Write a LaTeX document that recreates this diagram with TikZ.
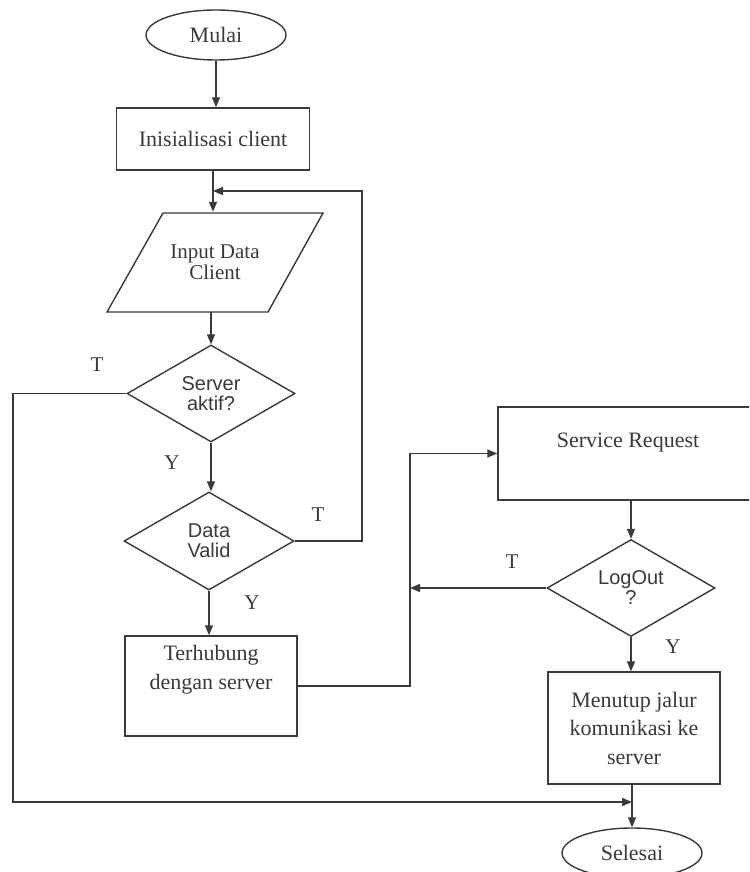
\documentclass[tikz,border=0pt]{standalone}
\usepackage{fontspec}
\setmainfont{Liberation Serif}
\newfontfamily\sansf{Liberation Sans}
\usetikzlibrary{shapes.geometric,arrows.meta}
\definecolor{lc}{HTML}{3A3A3A}
\begin{document}
\begin{tikzpicture}[x=1pt,y=-1pt,color=lc,line width=1.4pt,
  term/.style={ellipse,draw,minimum width=140,minimum height=50,inner sep=0,font=\fontsize{22}{26}\selectfont},
  procbox/.style={rectangle,draw,inner sep=0,align=center,font=\fontsize{22}{29}\selectfont},
  txt/.style={align=center,inner sep=0,font=\fontsize{22}{29}\selectfont},
  decis/.style={diamond,draw,aspect=1.7,inner sep=0,align=center,minimum width=168,minimum height=97,font=\sansf\fontsize{20}{20}\selectfont},
  arr/.style={-{Triangle[length=10pt,width=8pt]}},
  lbl/.style={inner sep=0,font=\fontsize{21}{21}\selectfont}]
\fill[white] (0,0) rectangle (749,872);
\useasboundingbox (0,0) rectangle (749,872);
\clip (0,0) rectangle (749,872);

% main column
\node[term] (mulai) at (216,35) {Mulai};
\node[procbox,minimum width=193,minimum height=62] (init) at (213,139) {Inisialisasi client};
\draw (107,312) -- (163,213) -- (323,213) -- (268,312) -- cycle;
\node[txt,font=\fontsize{21}{21}\selectfont,minimum height=99] (input) at (215,262) {Input Data\\Client};
\node[decis] (srv) at (211,393.5) {Server\\aktif?};
\node[decis,minimum width=170,minimum height=98] (dv) at (209,541) {Data\\Valid};
\node[procbox,minimum width=172,minimum height=100] (ter) at (211,686) {};
\node[txt] (terT) at (211,670) {Terhubung\\dengan server};

% right column
\node[procbox,minimum width=260,minimum height=93] (sr) at (628,453.5) {};
\node[txt] (srT) at (628,443) {Service Request};
\node[decis] (lo) at (631,588) {LogOut\\?};
\node[procbox,minimum width=172,minimum height=112,font=\fontsize{22}{28.5}\selectfont] (men) at (634,728) {Menutup jalur\\komunikasi ke\\server};
\node[term] (sel) at (632,853) {Selesai};

% junctions
\coordinate (j1) at (213,191);
\coordinate (loopR) at (362,541);
\coordinate (leftB) at (13,802);
\coordinate (j2) at (632,802);
\coordinate (j3) at (410,588);

% connectors
\draw[arr] (mulai.south) -- (mulai.south |- init.north);
\draw[arr] (init.south) -- (init.south |- input.north);
\draw[arr] (input.south -| srv.north) -- (srv.north);
\draw[arr] (srv.south) -- (srv.south |- dv.north);
\draw[arr] (dv.south) -- (dv.south |- ter.north);
\draw[arr] (dv.east) -- (loopR) |- (j1);
\draw[arr] (srv.west) -| (leftB) -- (j2);
\draw[arr] (ter.east) -| (j3) |- (sr.west);
\draw[arr] (sr.south -| lo.north) -- (lo.north);
\draw[arr] (lo.west) -- (j3);
\draw[arr] (lo.south) -- (lo.south |- men.north);
\draw[arr] (men.south -| sel.north) -- (sel.north);

% labels
\node[lbl] (lT1) at (97,365) {T};
\node[lbl] (lY1) at (172,463) {Y};
\node[lbl] (lT2) at (318,515) {T};
\node[lbl] (lY2) at (252,603) {Y};
\node[lbl] (lT3) at (512,562) {T};
\node[lbl] (lY3) at (673,647) {Y};
\end{tikzpicture}
\end{document}
